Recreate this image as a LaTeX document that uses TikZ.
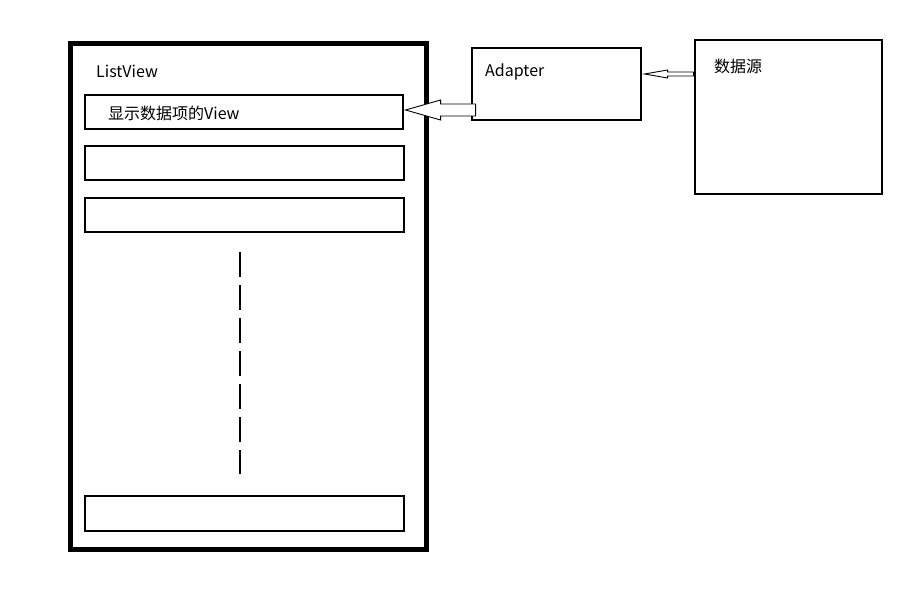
\documentclass[tikz,border=0pt]{standalone}
\usepackage{fontspec}
\setmainfont{Noto Sans CJK SC}
\usetikzlibrary{calc}
\begin{document}
\begin{tikzpicture}[x=1pt,y=-1pt,
  thinbox/.style={draw=black,line width=1.1pt,fill=white,inner sep=0pt},
  frame/.style={draw=black,line width=5pt,inner sep=0pt},
  label/.style={anchor=west,inner sep=0pt,font=\fontsize{16}{19}\selectfont},
  blockarrow/.style={draw=black,line width=0.9pt,fill=white,line join=miter}]
  \useasboundingbox (0,0) rectangle (915,593);

  % ListView frame
  \node[frame,minimum width=356pt,minimum height=505pt] (listview) at (248,296.5) {};
  \node[label] (lvtitle) at (96,71) {ListView};

  % item views
  \node[thinbox,minimum width=318pt,minimum height=34pt] (item1) at (244,112) {};
  \node[label] (item1text) at (108,113) {显示数据项的View};
  \node[thinbox,minimum width=319pt,minimum height=34pt] (item2) at (244.5,163) {};
  \node[thinbox,minimum width=319pt,minimum height=34pt] (item3) at (244.5,215) {};
  \node[thinbox,minimum width=319pt,minimum height=35pt] (itemn) at (244.5,513.5) {};

  % elided items
  \coordinate (gaptop) at (240,252);
  \coordinate (gapbot) at (240,474);
  \draw[line width=1.3pt,dash pattern=on 25pt off 8pt] (gaptop) -- (gapbot);

  % Adapter and data source
  \node[thinbox,minimum width=169pt,minimum height=72pt] (adapter) at (556.5,84) {};
  \node[label] (adaptertext) at (485,72) {Adapter};
  \node[thinbox,minimum width=187pt,minimum height=154pt] (source) at (788.5,117) {};
  \node[label] (sourcetext) at (714,66) {数据源};

  % block arrows: data source -> Adapter -> item view
  \draw[blockarrow] ($(item1.east)+(2,-2)$) -- ++(35,-10) -- ++(0,4) -- ++(35,0)
    -- ++(0,12) -- ++(-35,0) -- ++(0,4) -- cycle;
  \draw[blockarrow] ($(adapter.east)+(3,-10)$) -- ++(23,-4) -- ++(0,2) -- ++(26,0)
    -- ++(0,4) -- ++(-26,0) -- ++(0,2) -- cycle;
\end{tikzpicture}
\end{document}
